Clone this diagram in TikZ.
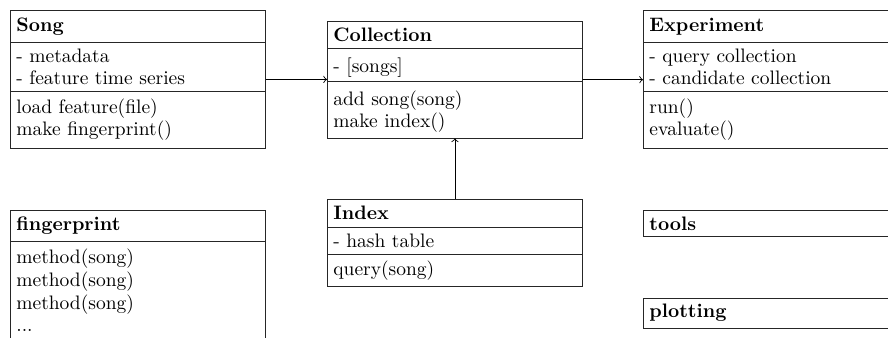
\documentclass[tikz,border=0pt]{standalone}
\def\pxu{0.513pt}
\begin{document}
\begin{tikzpicture}[x=0.513pt,y=-0.513pt,
  box/.style={draw=black!85, line width=0.45pt, inner sep=0pt, anchor=north west, minimum width=255*\pxu},
  txt/.style={anchor=base west, inner sep=0pt, font=\fontsize{10}{12}\selectfont},
  divider/.style={draw=black!85, line width=0.45pt},
  conn/.style={draw=black, line width=0.45pt, ->}]
\useasboundingbox (0,0) rectangle (888,337);
\clip (0,0) rectangle (888,337);
% Song
\node[box, minimum height=138*\pxu] (song) at (10,10) {};
\draw[divider] (song.west |- 0,42) -- (song.east |- 0,42);
\draw[divider] (song.west |- 0,91.5) -- (song.east |- 0,91.5);
\node[txt] (songT) at (16,31) {\textbf{Song}};
\node[txt] (songA1) at (16,62.5) {- metadata};
\node[txt] (songA2) at (16,84) {- feature time series};
\node[txt] (songM1) at (16,113) {load feature(file)};
\node[txt] (songM2) at (16,135) {make fingerprint()};
% Collection
\node[box, minimum height=116.5*\pxu] (coll) at (327,21) {};
\draw[divider] (coll.west |- 0,48) -- (coll.east |- 0,48);
\draw[divider] (coll.west |- 0,81) -- (coll.east |- 0,81);
\node[txt] (collT) at (333,41) {\textbf{Collection}};
\node[txt] (collA1) at (333,72.5) {- [songs]};
\node[txt] (collM1) at (333,105.5) {add song(song)};
\node[txt] (collM2) at (333,127) {make index()};
% Experiment
\node[box, minimum height=138*\pxu] (exp) at (643,10) {};
\draw[divider] (exp.west |- 0,42) -- (exp.east |- 0,42);
\draw[divider] (exp.west |- 0,91.5) -- (exp.east |- 0,91.5);
\node[txt] (expT) at (649,31) {\textbf{Experiment}};
\node[txt] (expA1) at (649,62.5) {- query collection};
\node[txt] (expA2) at (649,84) {- candidate collection};
\node[txt] (expM1) at (649,113) {run()};
\node[txt] (expM2) at (649,135) {evaluate()};
% Index
\node[box, minimum height=87*\pxu] (index) at (327,199) {};
\draw[divider] (index.west |- 0,227) -- (index.east |- 0,227);
\draw[divider] (index.west |- 0,254) -- (index.east |- 0,254);
\node[txt] (indexT) at (333,219.5) {\textbf{Index}};
\node[txt] (indexA1) at (333,247) {- hash table};
\node[txt] (indexM1) at (333,275) {query(song)};
% fingerprint
\node[box, minimum height=150*\pxu] (fp) at (10,210) {};
\draw[divider] (fp.west |- 0,241) -- (fp.east |- 0,241);
\node[txt] (fpT) at (16,230) {\textbf{fingerprint}};
\node[txt] (fpM1) at (16,263) {method(song)};
\node[txt] (fpM2) at (16,286) {method(song)};
\node[txt] (fpM3) at (16,309) {method(song)};
\node[txt] (fpM4) at (16,331.5) {...};
% tools
\node[box, minimum height=26.5*\pxu] (tools) at (643,209.5) {};
\node[txt] (toolsT) at (649,230) {\textbf{tools}};
% plotting
\node[box, minimum height=30*\pxu] (plot) at (643,297.5) {};
\node[txt] (plotT) at (649,317.5) {\textbf{plotting}};
% connectors
\draw[conn] (song.east) -- (song.east -| coll.west);
\draw[conn] (coll.east) -- (coll.east -| exp.west);
\draw[conn] (index.north) -- (coll.south);
\end{tikzpicture}
\end{document}
